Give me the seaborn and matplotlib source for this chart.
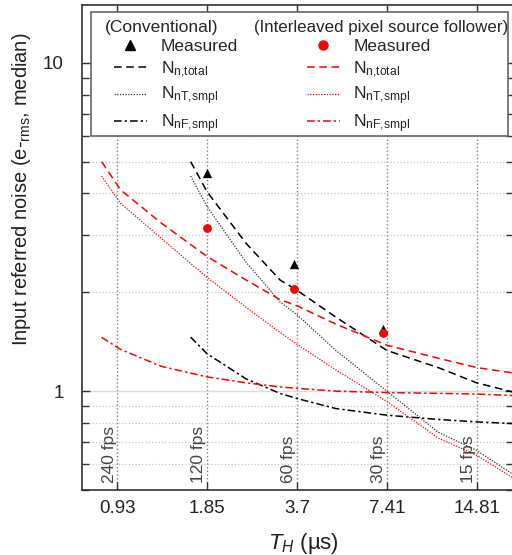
import numpy as np
import matplotlib
matplotlib.use('Agg')
import matplotlib.pyplot as plt
import seaborn as sns
from matplotlib.lines import Line2D
from matplotlib.patches import Rectangle
from matplotlib.ticker import LogLocator, NullLocator, FixedLocator, FixedFormatter, NullFormatter

# Horizontal period values (us) and labels
th_ticks = [0.926, 1.852, 3.704, 7.407, 14.81]
th_labels = ['0.93', '1.85', '3.7', '7.41', '14.81']
fps_labels = ['240 fps', '120 fps', '60 fps', '30 fps', '15 fps']

# Conventional pixel (black)
conv_x = [1.63, 1.85, 2.5, 3.25, 3.7, 5.0, 7.41, 11.0, 14.81, 19.5]
conv_total = [5.0, 4.05, 2.82, 2.18, 2.03, 1.68, 1.33, 1.18, 1.06, 0.995]
conv_T = [4.52, 3.65, 2.47, 1.87, 1.71, 1.33, 1.0, 0.75, 0.66, 0.56]
conv_F = [1.46, 1.30, 1.09, 0.984, 0.95, 0.885, 0.845, 0.82, 0.806, 0.797]
conv_meas_x = [1.85, 3.63, 7.17]
conv_meas = [4.63, 2.44, 1.55]

# Interleaved pixel source follower (red)
il_x = [0.82, 0.95, 1.3, 1.85, 2.5, 3.25, 3.7, 5.0, 7.41, 11.0, 14.81, 19.5]
il_total = [5.0, 4.1, 3.25, 2.57, 2.18, 1.90, 1.82, 1.60, 1.38, 1.26, 1.18, 1.137]
il_T = [4.52, 3.73, 2.92, 2.22, 1.80, 1.51, 1.39, 1.16, 0.93, 0.72, 0.638, 0.546]
il_F = [1.458, 1.34, 1.19, 1.105, 1.06, 1.03, 1.02, 1.0, 0.99, 0.985, 0.98, 0.97]
il_meas_x = [1.85, 3.63, 7.17]
il_meas = [3.13, 2.04, 1.50]

sns.set_theme(style='ticks')
plt.rcParams['font.family'] = ['Liberation Sans', 'DejaVu Sans']
plt.rcParams['mathtext.fontset'] = 'custom'
plt.rcParams['mathtext.rm'] = 'Liberation Sans'
plt.rcParams['mathtext.it'] = 'Liberation Sans:italic'
plt.rcParams['mathtext.default'] = 'regular'

fig = plt.figure(figsize=(5.12, 5.55), dpi=100)
ax = fig.add_axes([82 / 512, 65 / 555, 431 / 512, 485 / 555])

dash = (0, (5, 3))
dot = (0, (1, 1.2))
dashdot = (0, (5, 2, 1.5, 2))
red = '#ff0000'

sns.lineplot(x=conv_x, y=conv_total, ax=ax, color='black', linestyle=dash, lw=1.1, sort=False)
sns.lineplot(x=conv_x, y=conv_T, ax=ax, color='#333333', linestyle=dot, lw=0.9, sort=False)
sns.lineplot(x=conv_x, y=conv_F, ax=ax, color='black', linestyle=dashdot, lw=1.1, sort=False)
sns.lineplot(x=il_x, y=il_total, ax=ax, color=red, linestyle=dash, lw=1.1, sort=False)
sns.lineplot(x=il_x, y=il_T, ax=ax, color=red, linestyle=dot, lw=0.9, sort=False)
sns.lineplot(x=il_x, y=il_F, ax=ax, color=red, linestyle=dashdot, lw=1.1, sort=False)
sns.scatterplot(x=conv_meas_x, y=conv_meas, ax=ax, marker='^', s=45, color='black', linewidth=0, zorder=5)
sns.scatterplot(x=il_meas_x, y=il_meas, ax=ax, marker='o', s=40, color=red, linewidth=0, zorder=6)

ax.set_xscale('log')
ax.set_yscale('log')
ax.set_xlim(0.705, 19.6)
ax.set_ylim(0.5, 15)

ax.xaxis.set_major_locator(FixedLocator(th_ticks))
ax.xaxis.set_major_formatter(FixedFormatter(th_labels))
ax.xaxis.set_minor_locator(NullLocator())
ax.yaxis.set_minor_locator(LogLocator(base=10, subs=np.arange(2, 10)))
ax.yaxis.set_minor_formatter(NullFormatter())
ax.set_yticks([1, 10])
ax.set_yticklabels(['1', '10'])

ax.grid(axis='x', which='major', ls=':', color='#808080', lw=1)
ax.grid(axis='y', which='major', ls='-', color='#dddddd', lw=1)
ax.grid(axis='y', which='minor', ls=':', color='#c4c4c4', lw=0.9)
ax.set_axisbelow(True)

ax.tick_params(which='both', direction='in', top=True, right=True, colors='#333333',
               labelcolor='#222222', labelsize=13.5)
ax.tick_params(which='major', length=6, width=1)
ax.tick_params(which='minor', length=5, width=1)
ax.tick_params(axis='x', pad=7)
ax.tick_params(axis='y', pad=13)
for s in ax.spines.values():
    s.set_color('#333333')
    s.set_linewidth(1.2)

ax.set_xlabel('$\\mathit{T_H}$ (µs)', fontsize=16, color='#222222', labelpad=5)
ax.xaxis.set_label_coords(0.515, -0.085)
ax.set_ylabel('Input referred noise (e-$_{rms}$, median)', fontsize=14.5, color='#222222')
ax.yaxis.set_label_coords(-0.114, 0.62)

for t, lab in zip(th_ticks, fps_labels):
    ax.annotate(lab, xy=(t, 0), xycoords=('data', 'axes fraction'), xytext=(-0.5, 5),
                textcoords='offset points', rotation=90, ha='right', va='bottom',
                fontsize=12.5, color='#444444')

# legend box
ax.add_patch(Rectangle((0.021, 0.730), 0.967, 0.256, transform=ax.transAxes, facecolor='white',
                       edgecolor='#666666', lw=1.2, zorder=4))

blank = Line2D([], [], linestyle='none')
handles = [blank,
           Line2D([], [], marker='^', color='black', linestyle='none', markersize=7),
           Line2D([], [], color='black', linestyle=dash, lw=1.1),
           Line2D([], [], color='#333333', linestyle=dot, lw=0.9),
           Line2D([], [], color='black', linestyle=dashdot, lw=1.1),
           blank,
           Line2D([], [], marker='o', color=red, linestyle='none', markersize=6.5),
           Line2D([], [], color=red, linestyle=dash, lw=1.1),
           Line2D([], [], color=red, linestyle=dot, lw=0.9),
           Line2D([], [], color=red, linestyle=dashdot, lw=1.1)]
labels = [' ', 'Measured', 'N$_{n{,}total}$', 'N$_{nT{,}smpl}$', 'N$_{nF{,}smpl}$',
          ' ', 'Measured', 'N$_{n{,}total}$', 'N$_{nT{,}smpl}$', 'N$_{nF{,}smpl}$']
leg = ax.legend(handles, labels, ncol=2, loc='upper left', bbox_to_anchor=(0.074, 0.972),
                fontsize=12.5, frameon=False, borderaxespad=0, borderpad=0,
                handlelength=1.9, handletextpad=0.8, labelspacing=0.3, columnspacing=3.95)
leg.set_zorder(5)
ax.text(0.053, 0.953, '(Conventional)', transform=ax.transAxes, fontsize=12.5, va='center', ha='left', zorder=10)
ax.text(0.399, 0.953, '(Interleaved pixel source follower)', transform=ax.transAxes, fontsize=12.2,
        va='center', ha='left', zorder=10)

fig.savefig('out.png', dpi=100)
